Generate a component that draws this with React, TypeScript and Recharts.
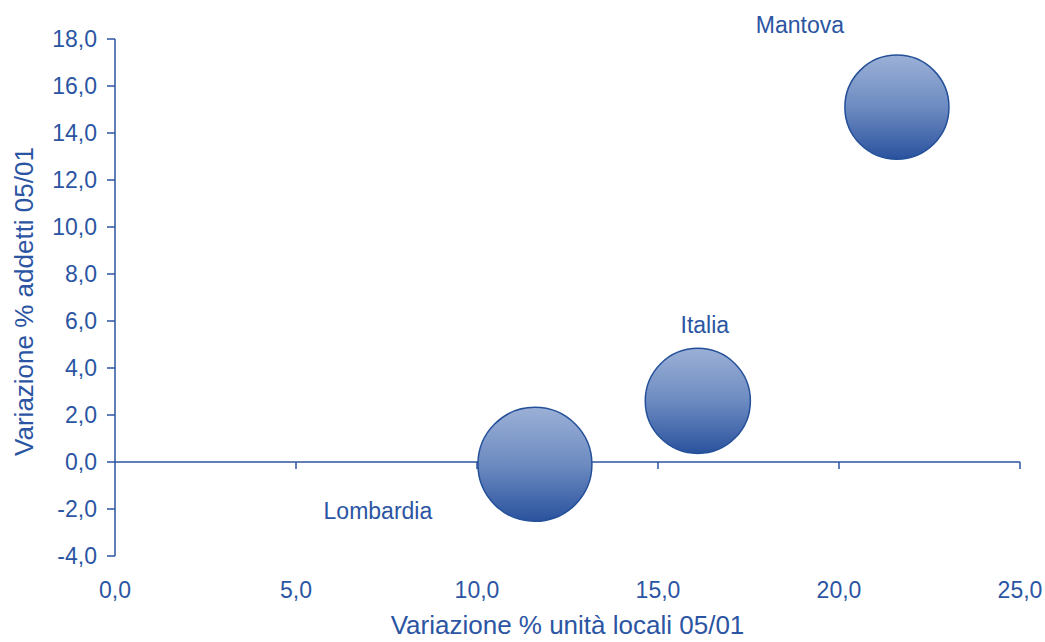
import { ScatterChart, Scatter, XAxis, YAxis, ZAxis, ReferenceLine, Label } from 'recharts'

const names = ['Lombardia', 'Italia', 'Mantova']
const unitaLocali = [11.6, 16.1, 21.6]
const addetti = [-0.1, 2.6, 15.1]
const bubbleSize = [120, 102, 100]
const xTicks = [0, 5, 10, 15, 20, 25]
const yTicks = [-4, -2, 0, 2, 4, 6, 8, 10, 12, 14, 16, 18]

const data = names.map((name, i) => ({ name, x: unitaLocali[i], y: addetti[i], z: bubbleSize[i] }))

// label placement relative to each bubble centre (px)
const labelOffset: Record<string, [number, number]> = {
  Mantova: [-97, -74],
  Italia: [7, -68],
  Lombardia: [-157, 55],
}

const BLUE = '#2b55a2'
const FONT = '"Liberation Sans", Arial, sans-serif'
const fmt = (v: number) => v.toFixed(1).replace('.', ',')

function Bubble(props: any) {
  const { cx, cy, width, payload } = props
  const r = width / 2
  const [dx, dy] = labelOffset[payload.name] || [0, 0]
  return (
    <g>
      <circle cx={cx} cy={cy} r={r} fill="url(#bubbleGrad)" stroke="#24509a" strokeWidth={1.5} />
      <text x={cx + dx} y={cy + dy} textAnchor="middle" fill={BLUE} fontSize={23} fontFamily={FONT}>
        {payload.name}
      </text>
    </g>
  )
}

function YTitle(props: any) {
  const { viewBox } = props
  const cy = viewBox.y + viewBox.height / 2 + 4
  return (
    <text x={33} y={cy} textAnchor="middle" transform={`rotate(-90, 33, ${cy})`} fill={BLUE} fontSize={26} fontFamily={FONT}>
      Variazione % addetti 05/01
    </text>
  )
}

function XTitle(props: any) {
  const { viewBox } = props
  return (
    <text x={viewBox.x + viewBox.width / 2} y={viewBox.y + 78} textAnchor="middle" fill={BLUE} fontSize={26} fontFamily={FONT}>
      Variazione % unità locali 05/01
    </text>
  )
}

export default function App() {
  return (
    <div style={{ position: 'absolute', left: 0, top: 0, background: '#fff' }}>
      <ScatterChart width={1045} height={642} margin={{ top: 39, right: 25, left: 0, bottom: 0 }}>
        <defs>
          <linearGradient id="bubbleGrad" x1="0" y1="0" x2="0" y2="1">
            <stop offset="0%" stopColor="#9bb0d6" />
            <stop offset="50%" stopColor="#6d8bc1" />
            <stop offset="100%" stopColor="#2a529d" />
          </linearGradient>
        </defs>
        <XAxis
          type="number"
          dataKey="x"
          domain={[0, 25]}
          ticks={xTicks}
          tickFormatter={fmt}
          axisLine={false}
          tickLine={false}
          tickSize={0}
          tickMargin={26}
          height={86}
          tick={{ fill: BLUE, fontSize: 23, fontFamily: FONT }}
          interval={0}
        >
          <Label content={XTitle} />
        </XAxis>
        <YAxis
          type="number"
          dataKey="y"
          domain={[-4, 18]}
          ticks={yTicks}
          tickFormatter={fmt}
          width={115}
          axisLine={{ stroke: BLUE, strokeWidth: 1.5 }}
          tickLine={{ stroke: BLUE, strokeWidth: 1.5 }}
          tickSize={8}
          tickMargin={10}
          tick={{ fill: BLUE, fontSize: 23, fontFamily: FONT }}
          interval={0}
        >
          <Label content={YTitle} />
        </YAxis>
        <ZAxis type="number" dataKey="z" domain={[0, 120]} range={[0, Math.PI * 57 * 57]} />
        <ReferenceLine y={0} stroke={BLUE} strokeWidth={1.5} />
        {xTicks.slice(1).map((t) => (
          <ReferenceLine key={t} segment={[{ x: t, y: 0 }, { x: t, y: -0.3 }]} stroke={BLUE} strokeWidth={1.5} />
        ))}
        <Scatter data={data} shape={Bubble} isAnimationActive={false} />
      </ScatterChart>
    </div>
  )
}
